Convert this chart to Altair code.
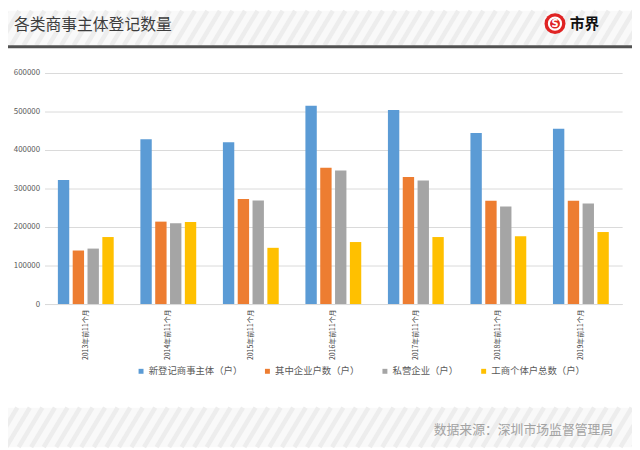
import altair as alt
import numpy as np
import pandas as pd

# ---- data ----
categories = ["2013年前11个月", "2014年前11个月", "2015年前11个月", "2016年前11个月",
              "2017年前11个月", "2018年前11个月", "2019年前11个月"]
series = ["新登记商事主体（户）", "其中企业户数（户）", "私营企业（户）", "工商个体户总数（户）"]
new_reg = [322000, 428000, 420000, 515000, 504000, 444000, 455000]
enterprise = [139000, 214000, 273000, 354000, 330000, 268000, 268000]
private = [144000, 210000, 269000, 347000, 321000, 253000, 261000]
individual = [174000, 213000, 146000, 161000, 174000, 176000, 187000]
colors = ["#5b9bd5", "#ed7d31", "#a5a5a5", "#ffc000"]
y_ticks = [0, 100000, 200000, 300000, 400000, 500000, 600000]

title_text = "各类商事主体登记数量"
source_text = "数据来源：深圳市场监督管理局"
logo_text = "市界"

FONT = "Noto Sans CJK SC"

rows = []
for vals, s in zip([new_reg, enterprise, private, individual], series):
    for c, v in zip(categories, vals):
        rows.append({"year": c, "series": s, "value": v})
df = pd.DataFrame(rows)

W, H = 585, 234
PAD_L, PAD_T = 37, 63
PAD_R = 632 - PAD_L - W
PAD_B = 442 - PAD_T - H

one = pd.DataFrame({"k": [0]})

# ---- decorative striped bands ----
def band(y_top, y_bot):
    return alt.Chart(one).mark_rect(color="#f9f9f9").encode(
        x=alt.value(-PAD_L), x2=alt.value(W + PAD_R),
        y=alt.value(y_top), y2=alt.value(y_bot))

def stripes(y_top, y_bot):
    h = y_bot - y_top
    x0 = np.arange(-PAD_L - h, W + PAD_R + 5, 12.7)
    sdf = pd.DataFrame({"xa": x0, "xb": x0 + h * 0.6, "ya": y_bot, "yb": y_top})
    return alt.Chart(sdf).mark_rule(color="#ededed", strokeWidth=4.5).encode(
        x=alt.X("xa:Q", scale=None, axis=None), x2="xb:Q",
        y=alt.Y("ya:Q", scale=None, axis=None), y2="yb:Q")

top_band = band(-63, -28)
top_stripes = stripes(-63, -28)
bot_band = band(339, 379)
bot_stripes = stripes(339, 379)

line = alt.Chart(one).mark_rule(color="#525252", strokeWidth=3).encode(
    x=alt.value(-PAD_L), x2=alt.value(W + PAD_R), y=alt.value(-26.5))

title = alt.Chart(pd.DataFrame({"t": [title_text]})).mark_text(
    font=FONT, fontSize=16, color="#3d3d3d", align="left", baseline="middle"
).encode(x=alt.value(-31), y=alt.value(-49), text="t:N")

logo_circle = alt.Chart(one).mark_point(
    shape="circle", filled=True, color="#e02424", size=450, opacity=1
).encode(x=alt.value(517), y=alt.value(-50))
logo_inner = alt.Chart(one).mark_point(
    shape="circle", filled=False, color="white", size=150, strokeWidth=2.2, opacity=1
).encode(x=alt.value(517), y=alt.value(-50))
logo_s = alt.Chart(pd.DataFrame({"t": ["S"]})).mark_text(
    font="DejaVu Sans", fontSize=10, fontWeight="bold", color="white",
    align="center", baseline="middle"
).encode(x=alt.value(517), y=alt.value(-50), text="t:N")
logo_word = alt.Chart(pd.DataFrame({"t": [logo_text]})).mark_text(
    font=FONT, fontSize=15, fontWeight="bold", color="#111111",
    align="left", baseline="middle"
).encode(x=alt.value(532), y=alt.value(-50), text="t:N")

source = alt.Chart(pd.DataFrame({"t": [source_text]})).mark_text(
    font=FONT, fontSize=13, color="#a3a3a3", align="right", baseline="middle"
).encode(x=alt.value(576), y=alt.value(362), text="t:N")

# ---- bars ----
bars = alt.Chart(df).mark_bar().encode(
    x=alt.X("year:N", sort=categories, title=None,
            scale=alt.Scale(paddingInner=0, paddingOuter=0),
            axis=alt.Axis(labelAngle=270, labelFontSize=7, labelColor="#404040",
                          labelFont=FONT, ticks=False, domainColor="#d9d9d9",
                          labelPadding=5, grid=False)),
    xOffset=alt.XOffset("series:N", sort=series,
                        scale=alt.Scale(paddingInner=0.233, paddingOuter=0.9)),
    y=alt.Y("value:Q", title=None, scale=alt.Scale(domain=[0, 600000]),
            axis=alt.Axis(values=y_ticks, format="d", labelFontSize=8,
                          labelColor="#595959", labelFont=FONT, ticks=False,
                          domain=False, gridColor="#d9d9d9", labelPadding=5)),
    color=alt.Color("series:N", sort=series,
                    scale=alt.Scale(domain=series, range=colors),
                    legend=alt.Legend(title=None, orient="none", legendX=93, legendY=297,
                                      direction="horizontal", symbolType="square",
                                      symbolSize=25, symbolStrokeWidth=0,
                                      labelFontSize=9.5, labelColor="#595959",
                                      labelFont=FONT, columnPadding=20, labelOffset=3)),
)

chart = alt.layer(
    top_band, top_stripes, bot_band, bot_stripes, line, title,
    logo_circle, logo_inner, logo_s, logo_word, source, bars
).resolve_scale(x="independent", y="independent").properties(
    width=W, height=H,
    padding={"left": PAD_L, "top": PAD_T, "right": PAD_R, "bottom": PAD_B},
    autosize=alt.AutoSizeParams(type="none"),
    background="white",
).configure_view(stroke=None)

chart.save("out.html", embed_options={"renderer": "svg", "actions": False})
